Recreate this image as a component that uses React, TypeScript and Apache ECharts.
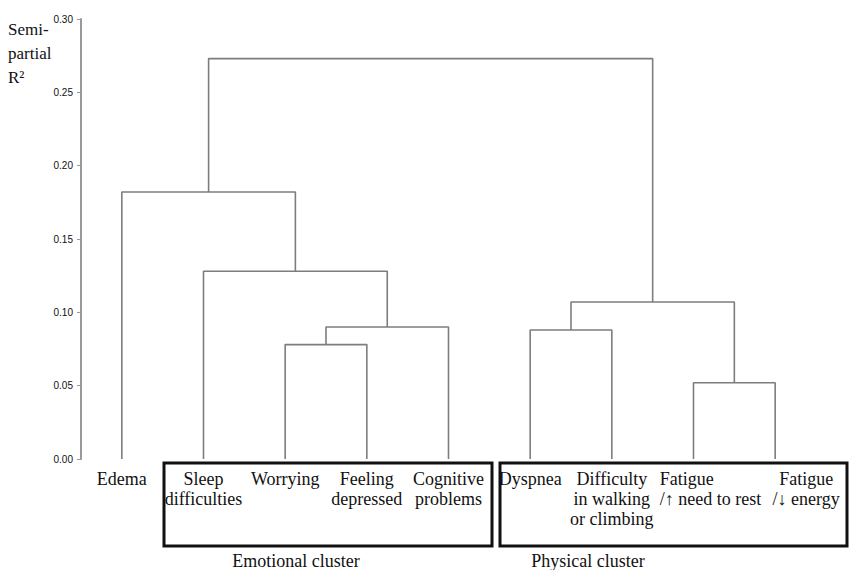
import React, { useEffect, useRef } from "react";
import * as echarts from "echarts";

const leafNames = [
  "Edema",
  "Sleep\ndifficulties",
  "Worrying",
  "Feeling\ndepressed",
  "Cognitive\nproblems",
  "Dyspnea",
  "Difficulty\nin walking\nor climbing",
  "Fatigue\n/↑ need to rest",
  "Fatigue\n/↓ energy",
];

// merge k creates node id (leafNames.length + k)
const mergeA = [2, 9, 1, 0, 5, 7, 13, 12];
const mergeB = [3, 4, 10, 11, 6, 8, 14, 15];
const mergeHeight = [0.078, 0.09, 0.128, 0.182, 0.088, 0.052, 0.107, 0.273];

const yTicks = [0, 0.05, 0.1, 0.15, 0.2, 0.25, 0.3];

const clusterNames = ["Emotional cluster", "Physical cluster"];

const SERIF = "'Liberation Serif', 'Times New Roman', serif";

export default function App() {
  const ref = useRef<HTMLDivElement>(null);
  useEffect(() => {
    if (!ref.current) return;
    const chart = echarts.init(ref.current, null, { renderer: "svg" });
    const n = leafNames.length;
    const xPos: number[] = leafNames.map((_, i) => i);
    const hPos: number[] = leafNames.map(() => 0);
    const series: any[] = [];
    mergeA.forEach((a, k) => {
      const b = mergeB[k];
      const h = mergeHeight[k];
      series.push({
        type: "line",
        xAxisIndex: 1,
        silent: true,
        showSymbol: false,
        symbol: "none",
        lineStyle: { color: "#7d7d7d", width: 1.6 },
        data: [
          [xPos[a], hPos[a]],
          [xPos[a], h],
          [xPos[b], h],
          [xPos[b], hPos[b]],
        ],
      });
      xPos[n + k] = (xPos[a] + xPos[b]) / 2;
      hPos[n + k] = h;
    });

    const base = { fontFamily: SERIF, fontSize: 18, lineHeight: 20, color: "#111" };
    chart.setOption({
      animation: false,
      grid: { left: 81, right: 33, top: 19, bottom: 111 },
      xAxis: [
        {
          type: "category",
          data: leafNames,
          position: "bottom",
          axisLine: { show: false },
          axisTick: { show: false },
          axisLabel: {
            interval: 0,
            margin: 10,
            formatter: (v: string, idx: number) => {
              const lines = v.split("\n");
              const key = idx === 7 ? "f1" : idx === 8 ? "f2" : "c";
              return lines.map((l) => `{${key}|${l}}`).join("\n");
            },
            rich: {
              c: { ...base },
              f1: { ...base, align: "left", padding: [0, 0, 0, 34] },
              f2: { ...base, padding: [0, 0, 0, 62] },
            },
          },
        },
        {
          type: "value",
          min: -0.5,
          max: n - 0.5,
          show: false,
        },
      ],
      yAxis: {
        type: "value",
        min: yTicks[0],
        max: yTicks[yTicks.length - 1],
        interval: 0.05,
        splitLine: { show: false },
        axisLine: { show: true, onZero: false, lineStyle: { color: "#9a9a9a", width: 2 } },
        axisTick: { show: true, length: 4, lineStyle: { color: "#9a9a9a" } },
        axisLabel: {
          fontFamily: "'Liberation Sans', Arial, sans-serif",
          fontSize: 10,
          color: "#111",
          margin: 8,
          formatter: (v: number) => v.toFixed(2),
        },
      },
      graphic: [
        {
          type: "text",
          left: 8,
          top: 17,
          style: {
            text: "Semi-\npartial\nR²",
            font: `17px ${SERIF}`,
            lineHeight: 24,
            fill: "#111",
          },
        },
        {
          type: "rect",
          shape: { x: 164, y: 463, width: 328, height: 83 },
          style: { fill: "none", stroke: "#111", lineWidth: 3 },
        },
        {
          type: "rect",
          shape: { x: 500, y: 463, width: 347, height: 83 },
          style: { fill: "none", stroke: "#111", lineWidth: 3 },
        },
        {
          type: "text",
          x: 296,
          y: 561,
          style: {
            text: clusterNames[0],
            font: `18px ${SERIF}`,
            fill: "#111",
            textAlign: "center",
            textVerticalAlign: "middle",
          },
        },
        {
          type: "text",
          x: 588,
          y: 561,
          style: {
            text: clusterNames[1],
            font: `18px ${SERIF}`,
            fill: "#111",
            textAlign: "center",
            textVerticalAlign: "middle",
          },
        },
      ],
      series,
    });
    return () => chart.dispose();
  }, []);
  return <div ref={ref} style={{ width: 849, height: 570, position: "absolute", left: 0, top: 0 }} />;
}
